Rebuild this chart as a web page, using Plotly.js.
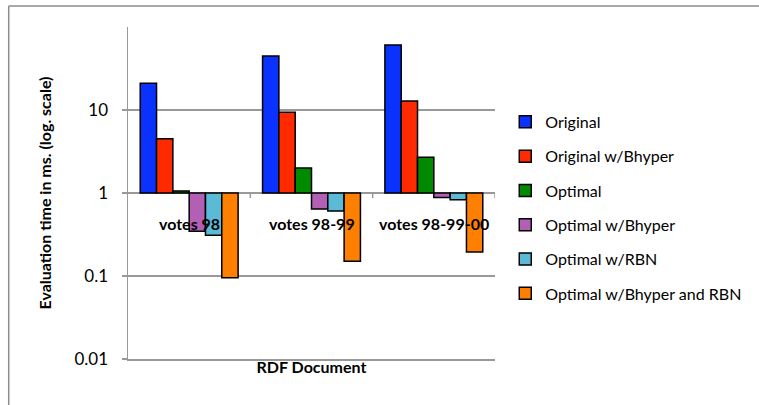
<!DOCTYPE html>
<html>
<head>
<meta charset="utf-8">
<script src="https://cdn.plot.ly/plotly-3.0.1.min.js"></script>
<style>html,body{margin:0;padding:0;background:#fff;}#chart{width:759px;height:405px;}</style>
</head>
<body>
<div id="chart"></div>
<script>
var categories = ["votes 98", "votes 98-99", "votes 98-99-00"];
var seriesNames = ["Original", "Original w/Bhyper", "Optimal", "Optimal w/Bhyper", "Optimal w/RBN", "Optimal w/Bhyper and RBN"];
var original = [21, 44.7, 60.7];
var originalBhyper = [4.5, 9.4, 12.8];
var optimal = [1.06, 2.0, 2.7];
var optimalBhyper = [0.345, 0.64, 0.885];
var optimalRBN = [0.31, 0.605, 0.83];
var optimalBhyperRBN = [0.095, 0.151, 0.195];
var seriesColors = ["#0a32ff", "#ff2a00", "#008a00", "#b35fb3", "#5bbad5", "#ff8000"];
var yTickVals = [0.01, 0.1, 1, 10];
var yTickText = ["0.01", "0.1", "1", "10"];
var baseValue = 1;

var allSeries = [original, originalBhyper, optimal, optimalBhyper, optimalRBN, optimalBhyperRBN];
var FONT = "Lato, 'Open Sans', sans-serif";

var traces = allSeries.map(function (vals, i) {
  return {
    type: "bar",
    name: seriesNames[i],
    x: categories,
    y: vals.map(function (v) { return v - baseValue; }),
    base: vals.map(function () { return baseValue; }),
    marker: { color: seriesColors[i], line: { color: "#000", width: 1.5 } },
    legendgroup: "g" + i,
    hoverinfo: "skip"
  };
});

var shapes = [
  { type: "line", xref: "paper", yref: "paper", x0: -0.325, x1: -0.325, y0: -0.2, y1: 1.063,
    line: { color: "#8c8c8c", width: 1.5 }, layer: "below" },
  { type: "line", xref: "paper", yref: "paper", x0: -0.325, x1: 1.72, y0: 1.063, y1: 1.063,
    line: { color: "#8c8c8c", width: 1.5 }, layer: "below" }
];
[0.5, 1.5, 2.5].forEach(function (b) {
  shapes.push({ type: "line", xref: "x", yref: "paper", x0: b, x1: b, y0: 0.5, y1: 0.5 - 5 / 332,
    line: { color: "#999", width: 1.5 } });
});

var annotations = categories.map(function (c) {
  return { x: c, xref: "x", y: 0.5, yref: "paper", yanchor: "middle", yshift: -30,
    text: c, showarrow: false, font: { family: FONT, size: 16, color: "#000", weight: "bold" } };
});

var layout = {
  width: 759, height: 405,
  margin: { l: 128, r: 259, t: 27, b: 46 },
  paper_bgcolor: "#fff", plot_bgcolor: "#fff",
  font: { family: FONT, size: 16, color: "#000" },
  barmode: "group", bargap: 0.2, bargroupgap: 0,
  showlegend: true,
  legend: { x: 1.028, xanchor: "left", y: 0.455, yanchor: "middle",
    font: { family: FONT, size: 16, color: "#000" }, tracegroupgap: 10.5,
    traceorder: "grouped", bgcolor: "rgba(0,0,0,0)" },
  xaxis: { type: "category", range: [-0.5, 2.5], showticklabels: false, ticks: "",
    showgrid: false, showline: true, linecolor: "#999", linewidth: 1.5, zeroline: false,
    title: { text: "<b>RDF Document</b>", font: { family: FONT, size: 16, color: "#000" }, standoff: 2 } },
  yaxis: { type: "log", range: [-2, 2], tickvals: yTickVals, ticktext: yTickText,
    showgrid: true, gridcolor: "#999", gridwidth: 1.5, ticks: "outside", ticklen: 5,
    tickcolor: "#999", tickwidth: 1.5, showline: true, linecolor: "#999", linewidth: 1.5,
    ticklabelstandoff: 10,
    tickfont: { family: FONT, size: 17, color: "#000" }, zeroline: false,
    title: { text: "<b>Evaluation time in ms. (log. scale)</b>", font: { family: FONT, size: 16, color: "#000" }, standoff: 19 } },
  shapes: shapes,
  annotations: annotations
};

Plotly.newPlot("chart", traces, layout, { displayModeBar: false, staticPlot: true });
</script>
</body>
</html>
